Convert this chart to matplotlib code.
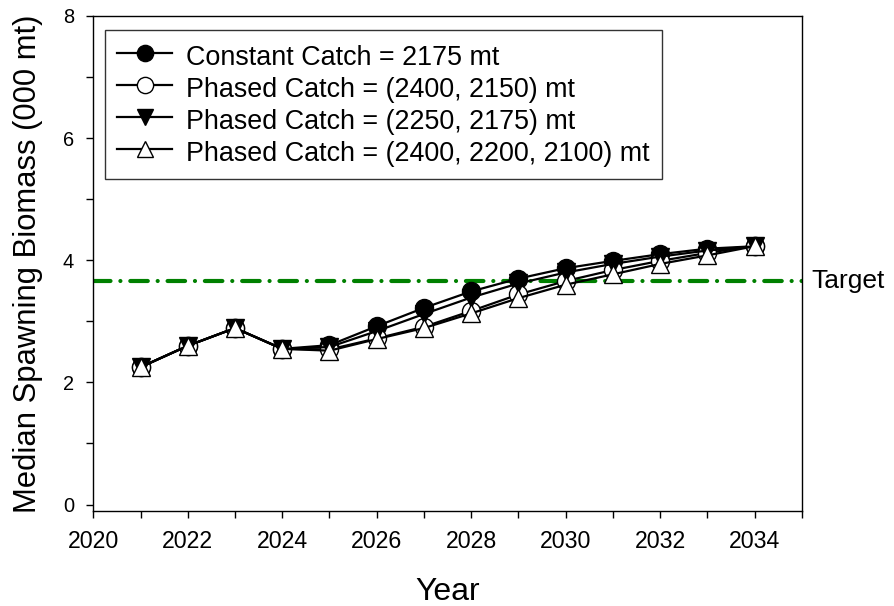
import matplotlib.pyplot as plt
from matplotlib.ticker import MultipleLocator

plt.rcParams['font.family'] = ['Liberation Sans', 'DejaVu Sans']

# Projected median spawning biomass (000 mt) under each catch scenario
years = [2021, 2022, 2023, 2024, 2025, 2026, 2027, 2028, 2029, 2030, 2031, 2032, 2033, 2034]
constant_2175 = [2.25, 2.60, 2.89, 2.55, 2.61, 2.92, 3.22, 3.49, 3.70, 3.87, 3.99, 4.10, 4.19, 4.23]
phased_2400_2150 = [2.25, 2.60, 2.89, 2.55, 2.54, 2.72, 2.91, 3.17, 3.44, 3.66, 3.84, 3.99, 4.12, 4.24]
phased_2250_2175 = [2.25, 2.60, 2.89, 2.55, 2.58, 2.84, 3.12, 3.39, 3.62, 3.80, 3.94, 4.06, 4.16, 4.23]
phased_2400_2200_2100 = [2.25, 2.60, 2.89, 2.55, 2.52, 2.71, 2.89, 3.13, 3.38, 3.60, 3.77, 3.94, 4.08, 4.23]
target = 3.66

labels = [
    "Constant Catch = 2175 mt",
    "Phased Catch = (2400, 2150) mt",
    "Phased Catch = (2250, 2175) mt",
    "Phased Catch = (2400, 2200, 2100) mt",
]

fig = plt.figure(figsize=(8.94, 6.06), dpi=100)
ax = fig.add_axes([0.1044, 0.1573, 0.7924, 0.8163])

# dash-dot target reference line
ax.axhline(target, color='#008000', lw=3, dashes=(4.2, 2.37, 0.01, 2.37),
           dash_capstyle='round', zorder=1)

style = dict(color='black', lw=1.6, markeredgecolor='black', markeredgewidth=1.0)
ax.plot(years, constant_2175, marker='o', ms=13, markerfacecolor='black',
        label=labels[0], **style)
ax.plot(years, phased_2400_2150, marker='o', ms=13, markerfacecolor='white',
        label=labels[1], **style)
ax.plot(years, phased_2250_2175, marker='v', ms=13, markerfacecolor='black',
        label=labels[2], **style)
ax.plot(years, phased_2400_2200_2100, marker='^', ms=13, markerfacecolor='white',
        label=labels[3], **style)

ax.text(2035.2, target, "Target", fontsize=19, va='center', ha='left',
        clip_on=False)

ax.set_xlim(2020, 2035)
ax.set_ylim(-0.1, 8)
ax.set_xticks(range(2020, 2035, 2))
ax.xaxis.set_minor_locator(MultipleLocator(1))
ax.set_yticks([0, 2, 4, 6, 8])
ax.yaxis.set_minor_locator(MultipleLocator(1))
ax.tick_params(which='both', direction='out', length=5, width=1,
               top=False, right=False)
ax.tick_params(axis='x', labelsize=16.7, pad=9)
ax.tick_params(axis='y', labelsize=14.4, pad=9)

for sp in ax.spines.values():
    sp.set_linewidth(1)

ax.set_xlabel("Year", fontsize=23, labelpad=17)
ax.set_ylabel("Median Spawning Biomass (000 mt)", fontsize=22.3, labelpad=14)

leg = ax.legend(loc='upper left', bbox_to_anchor=(0.0165, 0.9717), fontsize=19.4,
                frameon=True, fancybox=False, edgecolor='black',
                handlelength=2.05, handleheight=1.15, handletextpad=0.52,
                labelspacing=0.13, borderpad=0.45, borderaxespad=0,
                markerscale=0.9)
leg.get_frame().set_linewidth(1)

fig.savefig("out.png", dpi=100)
